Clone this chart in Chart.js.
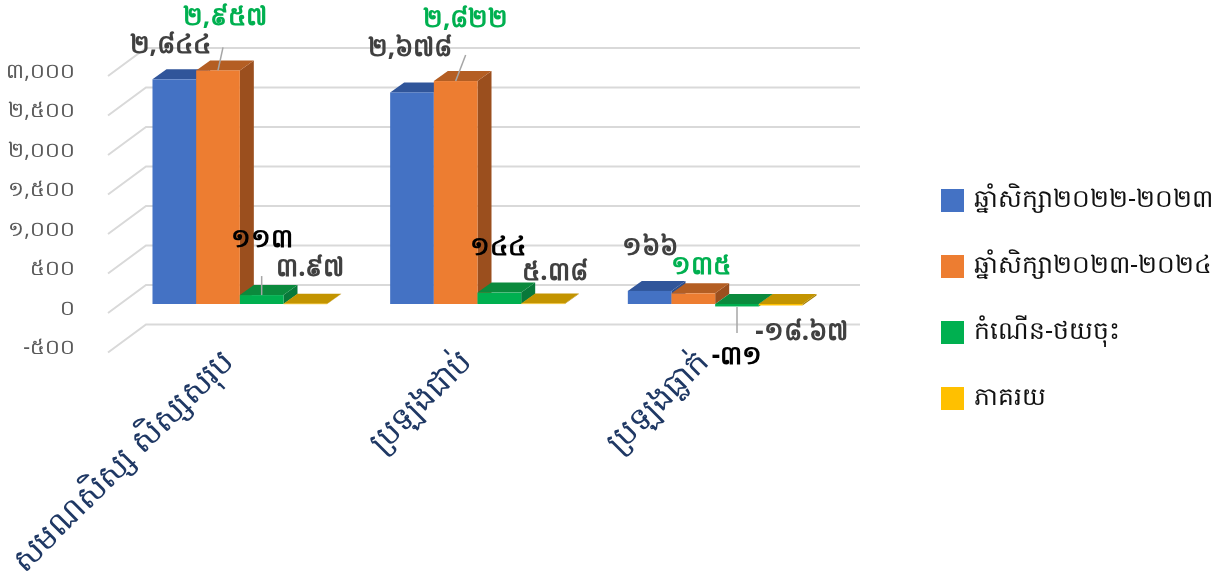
<!DOCTYPE html>
<html>
<head>
<meta charset="utf-8">
<script src="https://cdn.jsdelivr.net/npm/chart.js@4.4.1/dist/chart.umd.min.js"></script>
<style>
  html, body { margin: 0; padding: 0; background: #fff; }
  #wrap { width: 1228px; height: 574px; position: relative; }
</style>
</head>
<body>
<div id="wrap"><canvas id="chart"></canvas></div>
<script>
// data
const categories = ["សមណសិស្ស សិស្សសរុប", "ប្រឡងជាប់", "ប្រឡងធ្លាក់"];
const seriesNames = ["ឆ្នាំសិក្សា២០២២-២០២៣", "ឆ្នាំសិក្សា២០២៣-២០២៤", "កំណើន-ថយចុះ", "ភាគរយ"];
const year2022 = [2844, 2678, 166];
const year2023 = [2957, 2822, 135];
const growth = [113, 144, -31];
const percent = [3.97, 5.38, -18.67];
const yTicks = [-500, 0, 500, 1000, 1500, 2000, 2500, 3000];

// styles
const frontColors = ["#4472c4", "#ed7d31", "#00b050", "#ffc000"];
const topColors = ["#30559a", "#b45e23", "#0b8a3d", "#c39400"];
const sideColors = ["#2b4f8f", "#9b4f1e", "#08793a", "#a87f00"];
const labelColors = ["#404040", "#00b050", "#000000", "#404040"];
const FONT = "'Noto Sans', 'DejaVu Sans', sans-serif";
const DX = 14, DY = 10;

// label offsets from bar top centre (per dataset, per category)
const labelOffsets = [
  [[-4, -34], [-2, -44], [0, -43]],
  [[7, -53], [10, -61], [8, -27]],
  [[0, -55], [-1, -45], [0, 53]],
  [[5, -35], [12, -31], [21, 29]],
];
// leader lines [dataset, category, fromDx, fromDy, toDx, toDy]
const leaders = [
  [1, 0, 5, -23, 0, 0],
  [1, 1, 10, -26, 0, 0],
  [2, 0, 0, -19, 0, 0],
  [2, 2, 0, 3, 0, 29],
];

const toKhmer = (s) => String(s).replace(/[0-9]/g, (d) => "០១២៣៤៥៦៧៨៩"[d]);
const fmt = (v) => toKhmer(v.toLocaleString("en-US", { maximumFractionDigits: 2 }));

const bar3d = {
  id: "bar3d",
  beforeDatasetsDraw(chart) {
    const { ctx, chartArea, scales } = chart;
    const y = scales.y;
    // back wall grid lines with the left diagonal
    ctx.save();
    ctx.strokeStyle = "#d9d9d9";
    ctx.lineWidth = 2;
    yTicks.forEach((v) => {
      const py = y.getPixelForValue(v);
      ctx.beginPath();
      ctx.moveTo(chartArea.left - 13, py + 9);
      ctx.lineTo(chartArea.left + 25, py - 19);
      ctx.lineTo(chartArea.right + 26, py - 19);
      ctx.stroke();
    });

    chart.data.datasets.forEach((ds, i) => {
      const meta = chart.getDatasetMeta(i);
      meta.data.forEach((el) => {
        const p = el.getProps(["x", "y", "base", "width"], true);
        const l = p.x - p.width / 2, r = p.x + p.width / 2;
        const top = Math.min(p.y, p.base), bot = Math.max(p.y, p.base);
        // side
        ctx.fillStyle = sideColors[i];
        ctx.beginPath();
        ctx.moveTo(r, top);
        ctx.lineTo(r + DX, top - DY);
        ctx.lineTo(r + DX, bot - DY);
        ctx.lineTo(r, bot);
        ctx.closePath();
        ctx.fill();
        // top
        ctx.fillStyle = topColors[i];
        ctx.beginPath();
        ctx.moveTo(l, top);
        ctx.lineTo(l + DX, top - DY);
        ctx.lineTo(r + DX, top - DY);
        ctx.lineTo(r, top);
        ctx.closePath();
        ctx.fill();
        // front
        ctx.fillStyle = frontColors[i];
        ctx.fillRect(l, top, p.width, Math.max(bot - top, 0.5));
      });
    });
    ctx.restore();
    return false;
  },
  afterDraw(chart) {
    const { ctx } = chart;
    ctx.save();
    // leader lines
    ctx.strokeStyle = "#a6a6a6";
    ctx.lineWidth = 1.5;
    leaders.forEach(([d, c, fx, fy, tx, ty]) => {
      const el = chart.getDatasetMeta(d).data[c];
      const top = Math.min(el.y, el.base);
      ctx.beginPath();
      ctx.moveTo(el.x + fx, top + fy);
      ctx.lineTo(el.x + tx, top + ty);
      ctx.stroke();
    });
    // data labels
    ctx.textAlign = "center";
    ctx.textBaseline = "middle";
    chart.data.datasets.forEach((ds, i) => {
      const meta = chart.getDatasetMeta(i);
      ctx.fillStyle = labelColors[i];
      ctx.font = "bold 26px " + FONT;
      meta.data.forEach((el, j) => {
        const top = Math.min(el.y, el.base);
        const [ox, oy] = labelOffsets[i][j];
        ctx.fillText(fmt(ds.data[j]), el.x + ox, top + oy);
      });
    });
    // legend
    ctx.textAlign = "left";
    ctx.font = "25px " + FONT;
    chart.data.datasets.forEach((ds, i) => {
      const cy = 200 + i * 66;
      ctx.fillStyle = frontColors[i];
      ctx.fillRect(941, cy - 11, 23, 23);
      ctx.fillStyle = "#111111";
      ctx.fillText(ds.label, 974, cy);
    });
    ctx.restore();
  },
};

const ctx = document.getElementById("chart").getContext("2d");
new Chart(ctx, {
  type: "bar",
  data: {
    labels: categories,
    datasets: [
      { label: seriesNames[0], data: year2022, backgroundColor: frontColors[0] },
      { label: seriesNames[1], data: year2023, backgroundColor: frontColors[1] },
      { label: seriesNames[2], data: growth, backgroundColor: frontColors[2] },
      { label: seriesNames[3], data: percent, backgroundColor: frontColors[3] },
    ],
  },
  options: {
    responsive: true,
    maintainAspectRatio: false,
    animation: false,
    layout: { padding: { top: 67, right: 394, left: 0, bottom: 0 } },
    datasets: { bar: { categoryPercentage: 0.735, barPercentage: 1 } },
    scales: {
      x: {
        grid: { display: false },
        border: { display: false },
        ticks: {
          minRotation: 45,
          maxRotation: 45,
          color: "#1f3864",
          font: { size: 32, family: FONT },
          padding: -8,
          labelOffset: -11,
        },
        afterFit: (s) => { s.height = 230.5; },
      },
      y: {
        min: -500,
        max: 3000,
        grid: { display: false },
        border: { display: false },
        afterBuildTicks: (s) => { s.ticks = yTicks.map((v) => ({ value: v })); },
        afterFit: (s) => { s.width = 121; },
        ticks: {
          padding: 38,
          labelOffset: 5,
          color: "#595959",
          font: { size: 21, family: FONT },
          callback: (v) => fmt(v),
        },
      },
    },
    plugins: {
      legend: { display: false },
      tooltip: { enabled: false },
    },
  },
  plugins: [bar3d],
});
</script>
</body>
</html>
